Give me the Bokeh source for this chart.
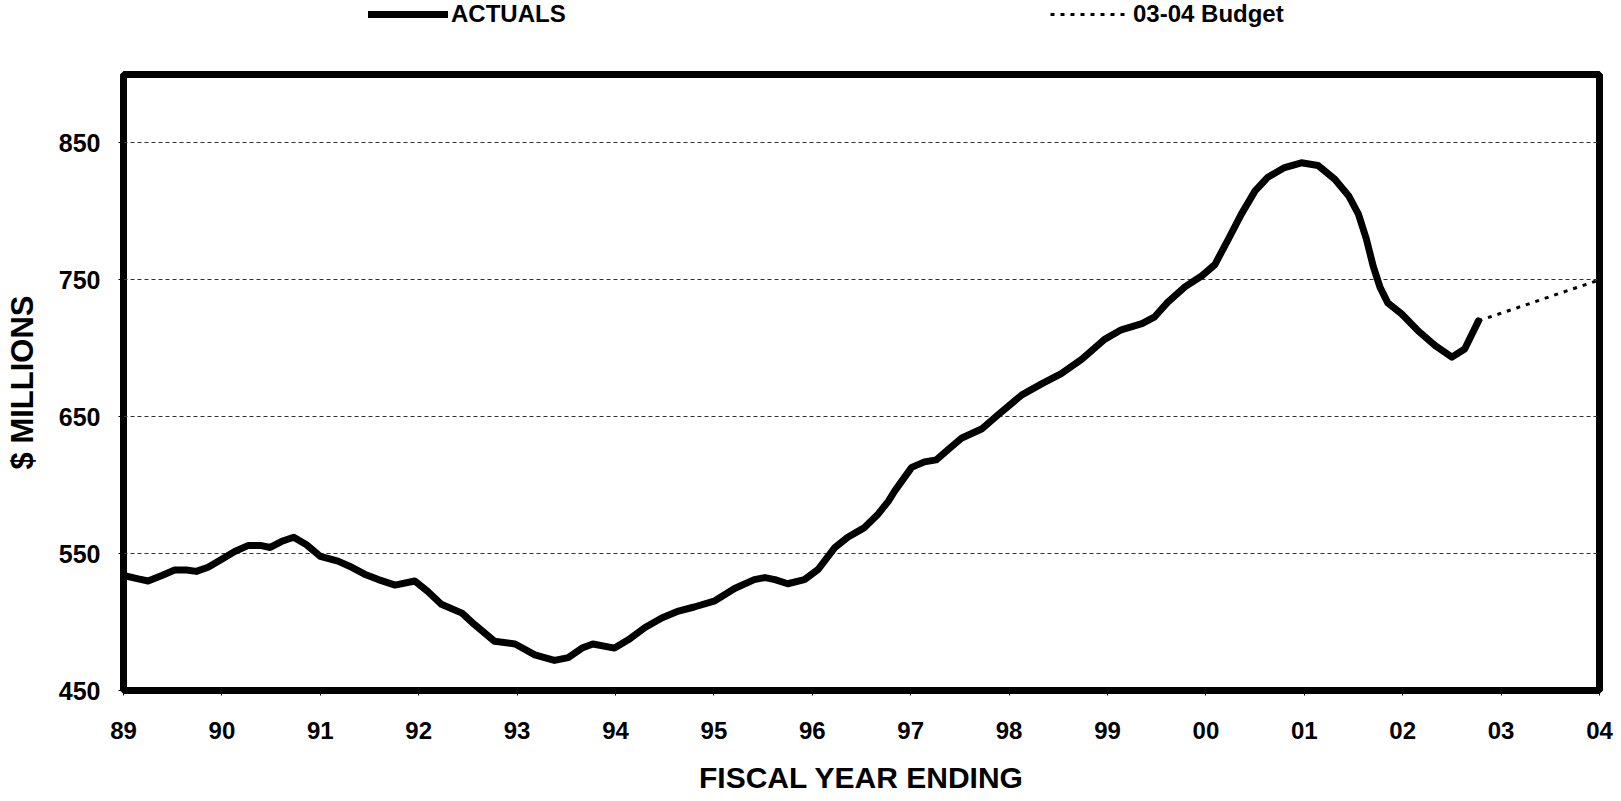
from bokeh.plotting import figure
from bokeh.layouts import column
from bokeh.models import Range1d, FixedTicker, Legend, LegendItem
from bokeh.embed import file_html
from bokeh.resources import INLINE

# Fiscal-year position measured from FY89 (0 = 89, 15 = 04)
period = [0.00, 0.15, 0.25, 0.39, 0.52, 0.64, 0.74, 0.86, 0.99, 1.13,
          1.27, 1.39, 1.49, 1.61, 1.73, 1.86, 2.00, 2.18, 2.32, 2.45,
          2.59, 2.76, 2.96, 3.09, 3.23, 3.44, 3.57, 3.77, 3.98, 4.18,
          4.38, 4.52, 4.66, 4.77, 4.99, 5.13, 5.30, 5.47, 5.64, 5.80,
          6.01, 6.21, 6.41, 6.52, 6.62, 6.75, 6.92, 7.06, 7.23, 7.36,
          7.53, 7.67, 7.77, 7.84, 8.01, 8.14, 8.26, 8.38, 8.52, 8.72,
          8.89, 9.13, 9.33, 9.53, 9.74, 9.97, 10.14, 10.35, 10.48, 10.61,
          10.79, 10.96, 11.09, 11.23, 11.36, 11.50, 11.63, 11.80, 11.97, 12.14,
          12.31, 12.45, 12.55, 12.63, 12.70, 12.77, 12.85, 12.99, 13.16, 13.33,
          13.50, 13.63, 13.77]

# Actual revenue, $ millions
actuals = [534.0, 531.5, 530.0, 534.0, 538.0, 538.0, 537.0, 540.0, 545.5, 551.5,
           556.0, 556.0, 554.5, 559.0, 562.0, 556.5, 548.0, 544.5, 540.0, 535.0,
           531.0, 527.0, 530.0, 522.5, 513.0, 506.5, 498.0, 486.0, 484.0, 476.0,
           472.0, 474.0, 481.0, 484.0, 481.0, 487.0, 496.0, 503.0, 508.0, 511.0,
           515.5, 524.5, 531.0, 532.5, 531.0, 528.0, 531.0, 538.5, 554.5, 562.0,
           569.0, 579.0, 588.0, 596.0, 613.0, 617.0, 618.5, 626.0, 634.5, 641.0,
           651.5, 666.0, 674.0, 681.5, 692.0, 706.5, 713.5, 718.0, 723.0, 733.5,
           745.0, 753.0, 761.0, 780.0, 798.0, 815.0, 825.0, 832.0, 835.5, 833.5,
           823.5, 811.5, 798.0, 780.0, 760.0, 744.5, 733.0, 725.0, 712.5, 702.0,
           693.5, 699.5, 720.0]

# 03-04 budget projection
budget_period = [13.77, 15.0]
budget = [720.0, 750.0]

year_ticks = list(range(16))
year_labels = ["89", "90", "91", "92", "93", "94", "95", "96", "97", "98",
               "99", "00", "01", "02", "03", "04"]
value_ticks = [450, 550, 650, 750, 850]

FONT = "Liberation Sans"
ACT_STYLE = dict(line_width=7, line_color="black", line_join="round", line_cap="round")
BUD_STYLE = dict(line_width=3, line_color="black", line_dash="4 6")

# ---- legend strip above the chart ----
# Its ranges sit far from the data, so only the legend samples show here.
key = figure(width=1621, height=70, x_range=Range1d(0, 1), y_range=Range1d(0, 1),
             x_axis_type=None, y_axis_type=None,
             output_backend="svg", toolbar_location=None,
             min_border_left=0, min_border_right=0,
             min_border_top=0, min_border_bottom=0)
key.outline_line_color = None
key.background_fill_color = "white"
key.border_fill_color = "white"
k_act = key.line(period, actuals, **ACT_STYLE)
k_bud = key.line(budget_period, budget, **BUD_STYLE)

legend_style = dict(border_line_color=None, background_fill_alpha=0,
                    padding=0, margin=0, glyph_width=80, glyph_height=28,
                    label_height=28, label_standoff=3,
                    label_text_font=FONT, label_text_font_style="bold",
                    label_text_font_size="24px", label_text_color="black")
# locations are measured from the left edge of the chart frame
key.add_layout(Legend(items=[LegendItem(label="ACTUALS", renderers=[k_act])],
                      location=(245, 42), **legend_style))
key.add_layout(Legend(items=[LegendItem(label="03-04 Budget", renderers=[k_bud])],
                      location=(927, 42), **legend_style))

# ---- main chart ----
p = figure(width=1621, height=731,
           x_range=Range1d(0, 15), y_range=Range1d(450, 900),
           output_backend="svg", toolbar_location=None,
           min_border_left=123, min_border_right=22,
           min_border_top=4, min_border_bottom=111)

p.background_fill_color = "white"
p.border_fill_color = "white"
p.outline_line_color = "black"
p.outline_line_width = 7

# x axis
p.xaxis.ticker = FixedTicker(ticks=year_ticks)
p.xaxis.major_label_overrides = {t: lab for t, lab in zip(year_ticks, year_labels)}
p.xaxis.axis_label = "FISCAL YEAR ENDING"
p.xaxis.major_label_standoff = 26
p.xaxis.axis_label_standoff = 19

# y axis
p.yaxis.ticker = FixedTicker(ticks=value_ticks)
p.yaxis.axis_label = "$ MILLIONS"
p.yaxis.major_label_standoff = 18
p.yaxis.axis_label_standoff = 16

for ax in (p.xaxis, p.yaxis):
    ax.axis_line_color = None
    ax.major_tick_out = 5
    ax.major_tick_in = 0
    ax.major_tick_line_color = "black"
    ax.major_tick_line_width = 1
    ax.minor_tick_line_color = None
    ax.major_label_text_font = FONT
    ax.major_label_text_font_style = "bold"
    ax.major_label_text_font_size = "24px"
    ax.major_label_text_color = "black"
    ax.axis_label_text_font = FONT
    ax.axis_label_text_font_style = "bold"
    ax.axis_label_text_font_size = "30px"
    ax.axis_label_text_color = "black"
p.yaxis.major_label_text_font_size = "25px"
p.yaxis.axis_label_text_font_size = "31px"

p.xgrid.visible = False
p.ygrid.ticker = FixedTicker(ticks=value_ticks)
p.ygrid.grid_line_color = "#333333"
p.ygrid.grid_line_width = 1
p.ygrid.grid_line_dash = "4 3"

p.line(period, actuals, **ACT_STYLE)
p.line(budget_period, budget, **BUD_STYLE)

page = column(key, p, spacing=0)

with open("out.html", "w") as f:
    f.write(file_html(page, INLINE))
